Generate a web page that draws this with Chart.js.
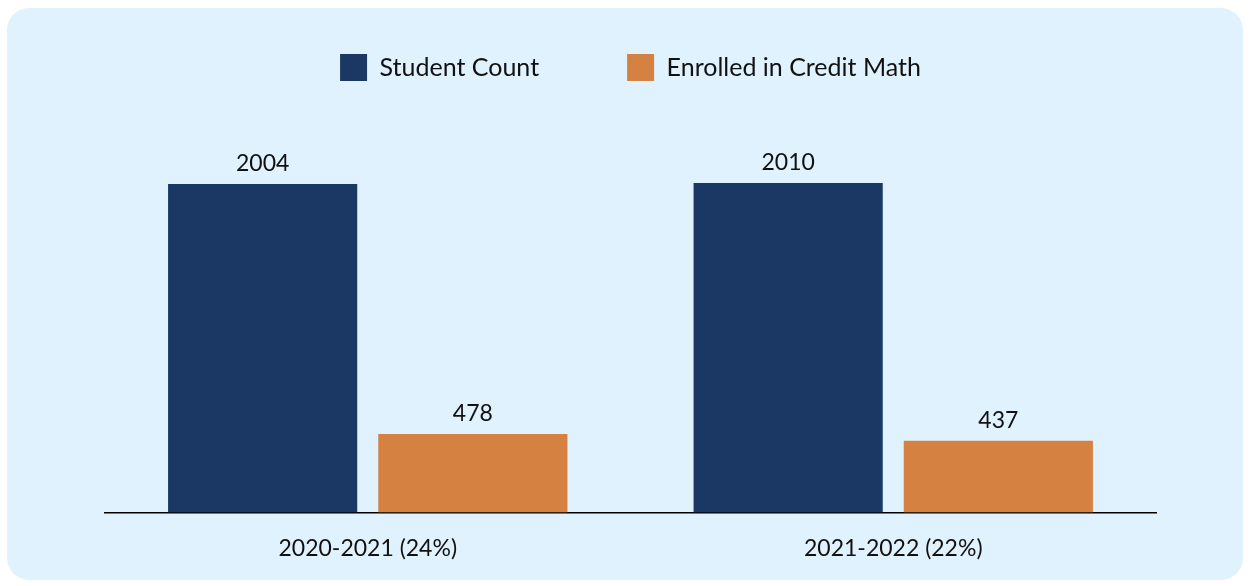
<!DOCTYPE html>
<html>
<head>
<meta charset="utf-8">
<script src="https://cdn.jsdelivr.net/npm/chart.js@4"></script>
<style>
  html, body { margin: 0; padding: 0; background: #ffffff; }
  #wrap { position: relative; width: 1250px; height: 586px; }
  #panel { position: absolute; left: 7px; top: 8px; width: 1236px; height: 572px; background: #e0f2fd; border-radius: 22px; }
  #enrollChart { position: absolute; left: 0; top: 0; }
</style>
</head>
<body>
<div id="wrap">
  <div id="panel"></div>
  <canvas id="enrollChart" width="1250" height="586"></canvas>
</div>
<script>
const years = ["2020-2021 (24%)", "2021-2022 (22%)"]
const studentCount = [2004, 2010]
const creditMath = [478, 437]

const fontName = "Lato, 'Noto Sans', sans-serif"
const legendGap = 88

// numbers above each bar
const valueLabels = {
    id: "valueLabels",
    afterDatasetsDraw(chart) {
        const ctx = chart.ctx
        ctx.save()
        ctx.font = "23px " + fontName
        ctx.fillStyle = "#111111"
        ctx.textAlign = "center"
        ctx.textBaseline = "bottom"
        chart.data.datasets.forEach((ds, i) => {
            chart.getDatasetMeta(i).data.forEach((bar, j) => {
                ctx.fillText(ds.data[j], bar.x, bar.y - 9)
            })
        })
        ctx.restore()
    }
}

// legend takes the space down to the plot, items sit near the top
const legendPlace = {
    id: "legendPlace",
    beforeInit(chart) {
        const origFit = chart.legend.fit
        chart.legend.fit = function () {
            origFit.bind(chart.legend)()
            this.height = 119
        }
    },
    beforeDraw(chart) {
        chart.legend.top = 54 - legendGap
    }
}

const canvasElement = document.getElementById("enrollChart")
var config = {
    type: "bar",
    data: {
        labels: years,
        datasets: [
            { label: "Student Count", data: studentCount, backgroundColor: "#1a3863" },
            { label: "Enrolled in Credit Math", data: creditMath, backgroundColor: "#d58142" }
        ]
    },
    options: {
        responsive: false,
        animation: false,
        layout: { padding: { top: 0, left: 105, right: 94, bottom: 2 } },
        plugins: {
            legend: {
                position: "top",
                labels: {
                    boxWidth: 27,
                    boxHeight: 27,
                    padding: legendGap,
                    color: "#111111",
                    font: { family: fontName, size: 25 }
                }
            },
            tooltip: { enabled: false }
        },
        scales: {
            x: {
                grid: { display: false, drawTicks: false },
                border: { display: true, color: "#000000", width: 1.5 },
                ticks: { color: "#111111", padding: 22, font: { family: fontName, size: 23 } }
            },
            y: {
                display: false,
                min: 0,
                max: 2400
            }
        }
    },
    plugins: [valueLabels, legendPlace]
}

var enrollChart = new Chart(canvasElement, config)
</script>
</body>
</html>
